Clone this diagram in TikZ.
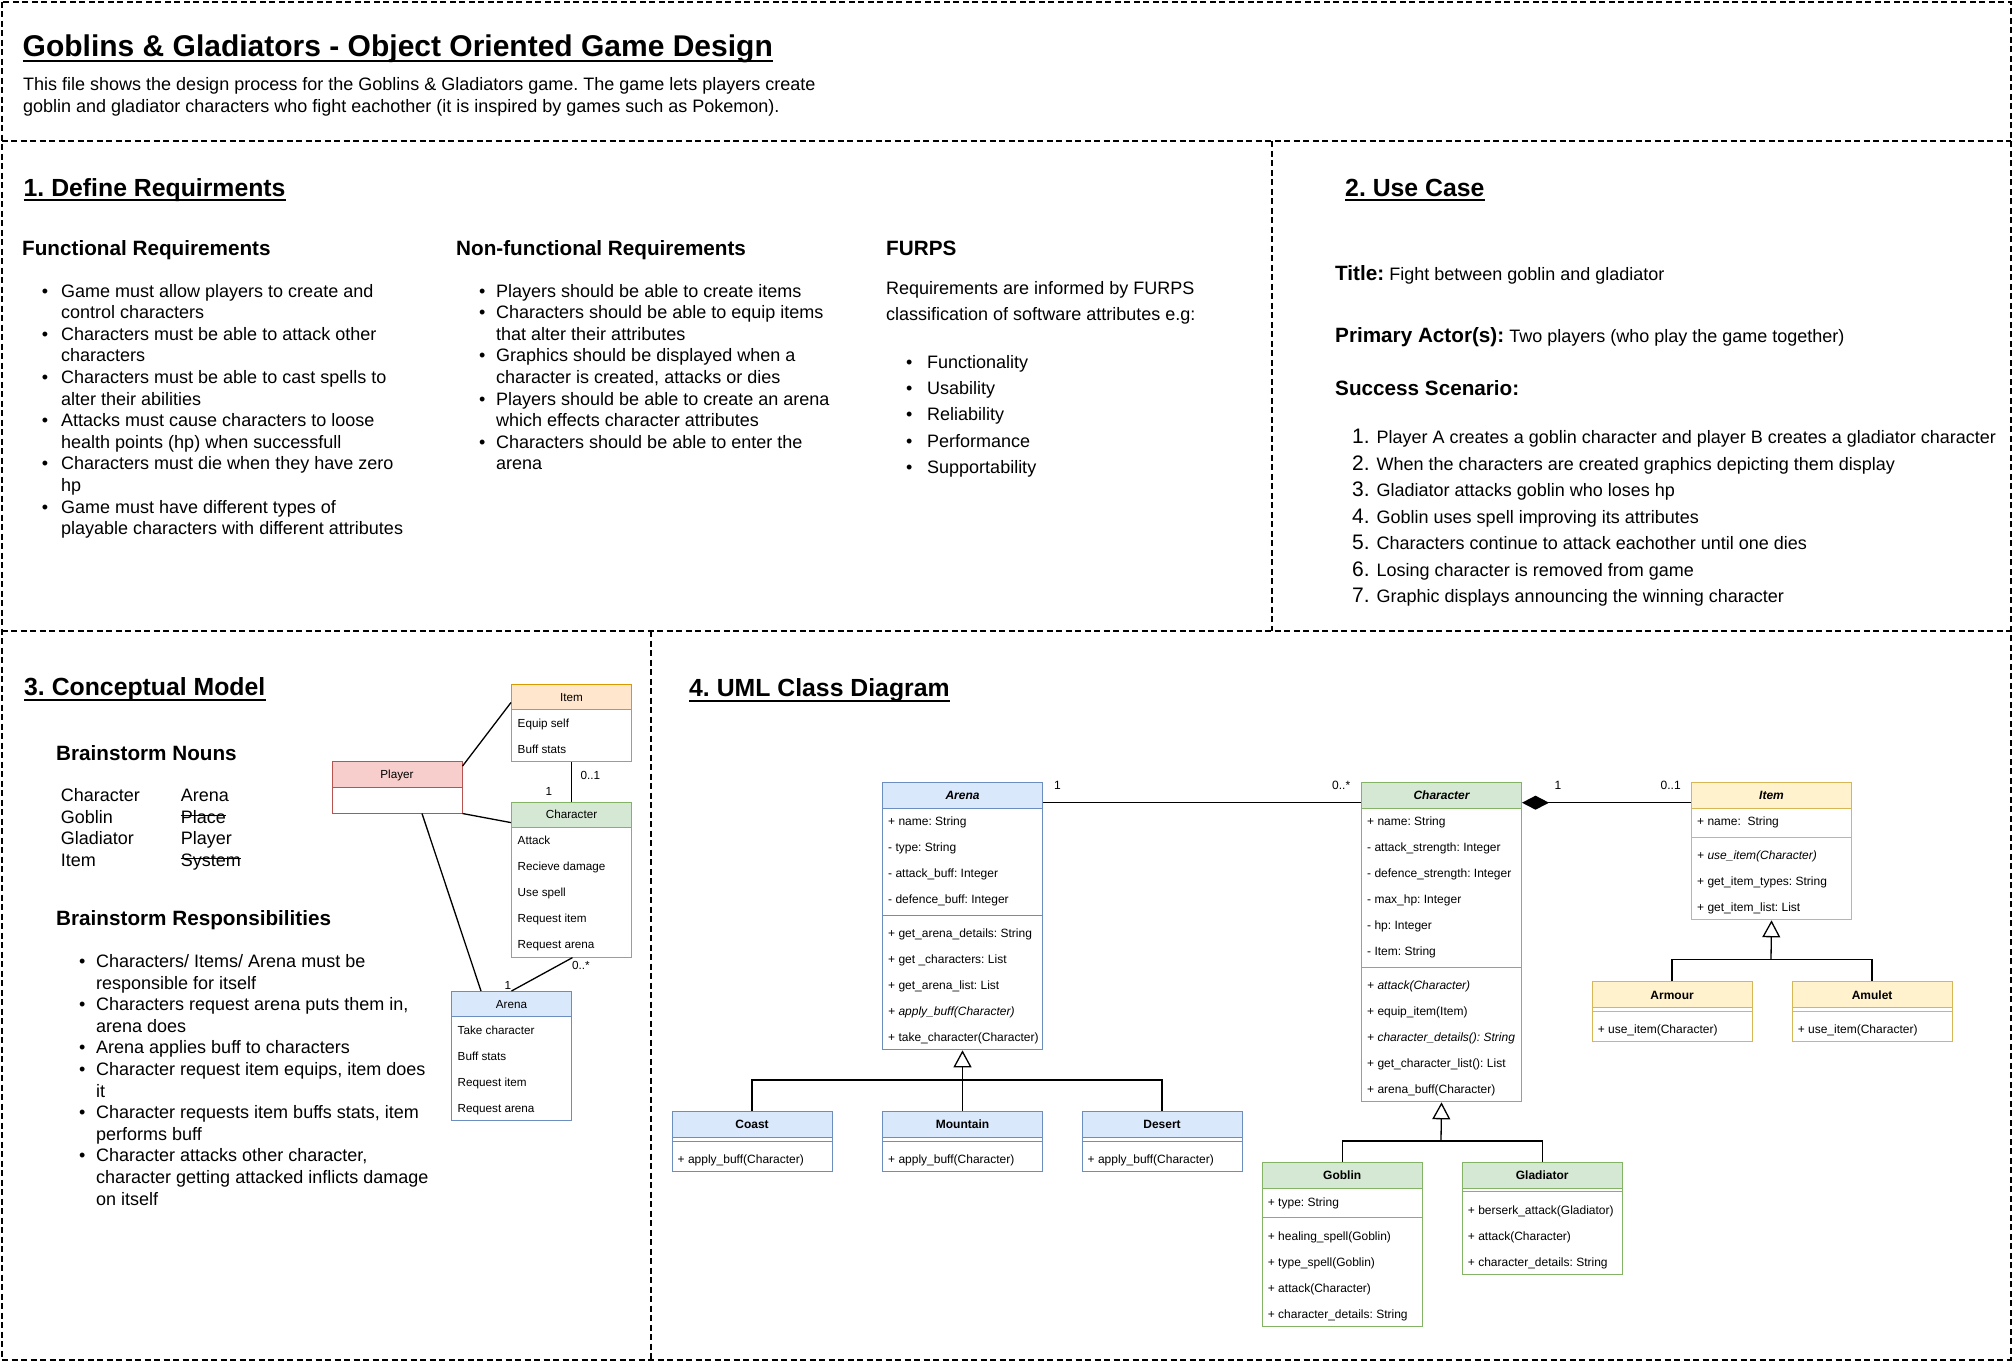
\documentclass[tikz,border=0pt]{standalone}
\usepackage{fontspec}
\setmainfont{Liberation Sans}
\usetikzlibrary{arrows.meta,calc}
\definecolor{bluF}{HTML}{DAE8FC}
\definecolor{bluS}{HTML}{6C8EBF}
\definecolor{grnF}{HTML}{D5E8D4}
\definecolor{grnS}{HTML}{82B366}
\definecolor{yelF}{HTML}{FFF2CC}
\definecolor{yelS}{HTML}{D6B656}
\definecolor{orgF}{HTML}{FFE6CC}
\definecolor{orgS}{HTML}{D79B00}
\definecolor{redF}{HTML}{F8CECC}
\definecolor{redS}{HTML}{B85450}
\newcommand\fs[1]{\fontsize{#1pt}{#1pt}\selectfont}
\newcommand\bul[1]{\makebox[#1pt][l]{\textbullet}}
\newcommand\ind[1]{\hspace*{#1pt}}
\frenchspacing
\begin{document}
\frenchspacing
\begin{tikzpicture}[x=1pt,y=-1pt,
  txt/.style={inner sep=0pt, anchor=base west},
  border/.style={line width=2pt, dash pattern=on 6pt off 3.5pt},
  ulin/.style={line width=2pt},
  conn/.style={line width=1.3pt},
  strike/.style={line width=1.1pt},
  clsbox/.style={draw, line width=1pt, fill=white, inner sep=0pt, minimum width=160pt, anchor=north west},
  clshdr/.style={draw, line width=1pt, inner sep=0pt, minimum width=160pt, minimum height=26pt, anchor=north west, font=\fs{12}\bfseries, text height=8.6pt, text depth=0pt},
  urow/.style={inner sep=0pt, anchor=west, text height=8.6pt, text depth=0pt, font=\fs{12}},
  seprule/.style={line width=1pt},
  cbox/.style={draw, line width=1pt, fill=white, inner sep=0pt, minimum width=120pt, anchor=north west},
  chdr/.style={draw, line width=1pt, inner sep=0pt, minimum width=120pt, minimum height=25pt, anchor=north west, font=\fs{11.7}, text height=8.4pt, text depth=0pt},
  crow/.style={inner sep=0pt, anchor=west, text height=8.4pt, text depth=0pt, font=\fs{11.7}},
  mult/.style={inner sep=0pt, anchor=west, text height=8.6pt, text depth=0pt, font=\fs{12}},
  inh/.style={conn, -{Triangle[open, length=17pt, width=18pt, fill=white]}},
]
\useasboundingbox (0,0) rectangle (2013,1363);
\fill[white] (0,0) rectangle (2013,1363);

% ---------- section borders ----------
\draw[border] (1.5,1.7) rectangle (2010.5,1359.5);
\draw[border] (1.5,141.3) -- (2010.5,141.3);
\draw[border] (1.5,631) -- (2010.5,631);
\draw[border] (1271.5,141.3) -- (1271.5,631);
\draw[border] (651,631) -- (651,1359.5);

% ---------- header ----------
\node[txt, font=\fs{30}\bfseries] (ttl) at (22.5,56.7) {Goblins \& Gladiators - Object Oriented Game Design};
\draw[ulin] ([yshift=-4.3pt]ttl.base west) -- ([yshift=-4.3pt]ttl.base east);
\node[txt, font=\fs{18}] (desc1) at (23,90.7) {This file shows the design process for the Goblins \& Gladiators game. The game lets players create};
\node[txt, font=\fs{18}] (desc2) at (23,112.3) {goblin and gladiator characters who fight eachother (it is inspired by games such as Pokemon).};

% ---------- section 1 ----------
\node[txt, font=\fs{24.8}\bfseries] (h1) at (23.5,196) {1. Define Requirments};
\draw[ulin] ([yshift=-4pt]h1.base west) -- ([yshift=-4pt]h1.base east);
\node[txt, font=\fs{20.7}\bfseries] (fh) at (22,255) {Functional Requirements};
\node[txt, font=\fs{20.7}\bfseries] (nh) at (456,255) {Non-functional Requirements};
\node[txt, font=\fs{20.7}\bfseries] (ph) at (886,255) {FURPS};

\foreach \t [count=\i from 0] in {
 {\bul{19.3}Game must allow players to create and},
 {\ind{19.3}control characters},
 {\bul{19.3}Characters must be able to attack other},
 {\ind{19.3}characters},
 {\bul{19.3}Characters must be able to cast spells to},
 {\ind{19.3}alter their abilities},
 {\bul{19.3}Attacks must cause characters to loose},
 {\ind{19.3}health points (hp) when successfull},
 {\bul{19.3}Characters must die when they have zero},
 {\ind{19.3}hp},
 {\bul{19.3}Game must have different types of},
 {\ind{19.3}playable characters with different attributes}}
 {\node[txt, font=\fs{18}] (fr\i) at (41.7,{297+21.6*\i}) {\t};}

\foreach \t [count=\i from 0] in {
 {\bul{17.1}Players should be able to create items},
 {\bul{17.1}Characters should be able to equip items},
 {\ind{17.1}that alter their attributes},
 {\bul{17.1}Graphics should be displayed when a},
 {\ind{17.1}character is created, attacks or dies},
 {\bul{17.1}Players should be able to create an arena},
 {\ind{17.1}which effects character attributes},
 {\bul{17.1}Characters should be able to enter the},
 {\ind{17.1}arena}}
 {\node[txt, font=\fs{18}] (nf\i) at (478.9,{297+21.6*\i}) {\t};}

\node[txt, font=\fs{18}] (fp1) at (886,294) {Requirements are informed by FURPS};
\node[txt, font=\fs{18}] (fp2) at (886,320.3) {classification of software attributes e.g:};
\foreach \t [count=\i from 0] in {Functionality, Usability, Reliability, Performance, Supportability}
 {\node[txt, font=\fs{18}] (fu\i) at (905.9,{368.3+26.25*\i}) {\bul{21.1}\t};}

% ---------- section 2 ----------
\node[txt, font=\fs{24.8}\bfseries] (h2) at (1345,196) {2. Use Case};
\draw[ulin] ([yshift=-4pt]h2.base west) -- ([yshift=-4pt]h2.base east);
\node[txt, font=\fs{18}] (uTitle) at (1335,280.7) {{\fs{20.7}\bfseries Title:} Fight between goblin and gladiator};
\node[txt, font=\fs{18}] (uActor) at (1335,342.3) {{\fs{20.7}\bfseries Primary Actor(s):} Two players (who play the game together)};
\node[txt, font=\fs{20.7}\bfseries] (uSucc) at (1335,395) {Success Scenario:};
\foreach \t [count=\i from 0] in {
 {Player A creates a goblin character and player B creates a gladiator character},
 {When the characters are created graphics depicting them display},
 {Gladiator attacks goblin who loses hp},
 {Goblin uses spell improving its attributes},
 {Characters continue to attack eachother until one dies},
 {Losing character is removed from game},
 {Graphic displays announcing the winning character}}
 {\pgfmathtruncatemacro\n{\i+1}
  \node[txt, font=\fs{21}] (sn\i) at (1352,{443.5+26.5*\i}) {\n.};
  \node[txt, font=\fs{18}] (st\i) at (1376.5,{443.5+26.5*\i}) {\t};}

% ---------- section 3 ----------
\node[txt, font=\fs{24.8}\bfseries] (h3) at (24,695.7) {3. Conceptual Model};
\draw[ulin] ([yshift=-4.3pt]h3.base west) -- ([yshift=-4.3pt]h3.base east);
\node[txt, font=\fs{20.7}\bfseries] (bn) at (56,760) {Brainstorm Nouns};
\foreach \t [count=\i from 0] in {Character, Goblin, Gladiator, Item}
 {\node[txt, font=\fs{18}] (nl\i) at (60.7,{801.7+21.5*\i}) {\t};}
\node[txt, font=\fs{18}] (nr0) at (180.7,801.7) {Arena};
\node[txt, font=\fs{18}] (nr1) at (180.7,823.2) {Place\ };
\node[txt, font=\fs{18}] (nr2) at (180.7,844.7) {Player};
\node[txt, font=\fs{18}] (nr3) at (180.7,866.2) {System};
\draw[strike] ([yshift=7.4pt]nr1.base west) -- ([yshift=7.4pt]nr1.base east);
\draw[strike] ([yshift=7.4pt]nr3.base west) -- ([yshift=7.4pt]nr3.base east);

\node[txt, font=\fs{20.7}\bfseries] (br) at (56,925.5) {Brainstorm Responsibilities};
\foreach \t [count=\i from 0] in {
 {\bul{17.1}Characters/ Items/ Arena must be},
 {\ind{17.1}responsible for itself},
 {\bul{17.1}Characters request arena puts them in,},
 {\ind{17.1}arena does},
 {\bul{17.1}Arena applies buff to characters},
 {\bul{17.1}Character request item equips, item does},
 {\ind{17.1}it},
 {\bul{17.1}Character requests item buffs stats, item},
 {\ind{17.1}performs buff},
 {\bul{17.1}Character attacks other character,},
 {\ind{17.1}character getting attacked inflicts damage},
 {\ind{17.1}on itself}}
 {\node[txt, font=\fs{18}] (rs\i) at (78.9,{967.5+21.6*\i}) {\t};}

% conceptual boxes
\node[cbox, draw=orgS, minimum height=77pt] (cItem) at (511,684) {};
\node[chdr, fill=orgF, draw=orgS] (cItemH) at (511,684) {Item};
\node[crow] (cIt1) at (517.5,723) {Equip self};
\node[crow] (cIt2) at (517.5,749) {Buff stats};

\node[cbox, draw=redS, minimum width=130pt, minimum height=52pt] (cPlayer) at (331.5,760.5) {};
\node[chdr, fill=redF, draw=redS, minimum width=130pt, minimum height=26pt] (cPlayerH) at (331.5,760.5) {Player};

\node[cbox, draw=grnS, minimum height=155pt] (cChar) at (511,801.6) {};
\node[chdr, fill=grnF, draw=grnS] (cCharH) at (511,801.6) {Character};
\foreach \t [count=\i from 0] in {Attack, Recieve damage, Use spell, Request item, Request arena}
 {\node[crow] (cCh\i) at (517.5,{840.6+26*\i}) {\t};}

\node[cbox, draw=bluS, minimum height=129pt] (cArena) at (451,991) {};
\node[chdr, fill=bluF, draw=bluS] (cArenaH) at (451,991) {Arena};
\foreach \t [count=\i from 0] in {Take character, Buff stats, Request item, Request arena}
 {\node[crow] (cAr\i) at (457.5,{1030+26*\i}) {\t};}

% conceptual connectors
\draw[conn] ($(cPlayer.north east)+(0,5.6)$) -- ($(cItem.north west)+(0,18.5)$);
\draw[conn] (cPlayer.south east) -- ($(cChar.north west)+(0,21)$);
\draw[conn] (cItem.south) -- (cChar.north);
\draw[conn] ($(cPlayer.south west)+(90.5,0)$) -- ($(cArena.north west)+(30,0)$);
\draw[conn] ($(cChar.south)+(1,0)$) -- (cArena.north);
\node[crow] (cm1) at (580.5,775) {0..1};
\node[crow] (cm2) at (545.5,791) {1};
\node[crow] (cm3) at (572,965) {0..*};
\node[crow] (cm4) at (504.5,985) {1};

% ---------- section 4 ----------
\node[txt, font=\fs{24.8}\bfseries] (h4) at (689,696.5) {4. UML Class Diagram};
\draw[ulin] ([yshift=-4pt]h4.base west) -- ([yshift=-4pt]h4.base east);

% Arena
\node[clsbox, draw=bluS, minimum height=267.6pt] (uArena) at (882,781.7) {};
\node[clshdr, fill=bluF, draw=bluS] (uArenaH) at (882,781.7) {\itshape Arena};
\draw[seprule, bluS] (882,915.3) -- (1042,915.3);
\foreach \t [count=\i from 0] in {{+ name: String}, {- type: String}, {- attack\_buff: Integer}, {- defence\_buff: Integer}}
 {\node[urow] (uAa\i) at (888,{821.3+26*\i}) {\t};}
\foreach \t [count=\i from 0] in {{+ get\_arena\_details: String}, {+ get \_characters: List}, {+ get\_arena\_list: List}, {\itshape + apply\_buff(Character)}, {+ take\_character(Character)}}
 {\node[urow] (uAm\i) at (888,{933.3+26*\i}) {\t};}

% Coast, Mountain, Desert
\node[clsbox, draw=bluS, minimum height=60pt] (uCoast) at (671.5,1111) {};
\node[clshdr, fill=bluF, draw=bluS] (uCoastH) at (671.5,1111) {Coast};
\draw[seprule, bluS] (671.5,1141) -- (831.5,1141);
\node[urow] (uCo1) at (677.5,1159) {+ apply\_buff(Character)};

\node[clsbox, draw=bluS, minimum height=60pt] (uMount) at (882,1111) {};
\node[clshdr, fill=bluF, draw=bluS] (uMountH) at (882,1111) {Mountain};
\draw[seprule, bluS] (882,1141) -- (1042,1141);
\node[urow] (uMo1) at (888,1159) {+ apply\_buff(Character)};

\node[clsbox, draw=bluS, minimum height=60pt] (uDesert) at (1081.5,1111) {};
\node[clshdr, fill=bluF, draw=bluS] (uDesertH) at (1081.5,1111) {Desert};
\draw[seprule, bluS] (1081.5,1141) -- (1241.5,1141);
\node[urow] (uDe1) at (1087.5,1159) {+ apply\_buff(Character)};

% Character
\node[clsbox, draw=grnS, minimum height=319.6pt] (uChar) at (1361,781.7) {};
\node[clshdr, fill=grnF, draw=grnS] (uCharH) at (1361,781.7) {\itshape Character};
\draw[seprule, grnS] (1361,967.3) -- (1521,967.3);
\foreach \t [count=\i from 0] in {{+ name: String}, {- attack\_strength: Integer}, {- defence\_strength: Integer}, {- max\_hp: Integer}, {- hp: Integer}, {- Item: String}}
 {\node[urow] (uCa\i) at (1367,{821.3+26*\i}) {\t};}
\foreach \t [count=\i from 0] in {{\itshape + attack(Character)}, {+ equip\_item(Item)}, {\itshape + character\_details(): String}, {+ get\_character\_list(): List}, {+ arena\_buff(Character)}}
 {\node[urow] (uCm\i) at (1367,{985.3+26*\i}) {\t};}

% Goblin, Gladiator
\node[clsbox, draw=grnS, minimum height=164pt] (uGob) at (1261.7,1161.7) {};
\node[clshdr, fill=grnF, draw=grnS] (uGobH) at (1261.7,1161.7) {Goblin};
\draw[seprule, grnS] (1261.7,1217.7) -- (1421.7,1217.7);
\node[urow] (uGa0) at (1267.7,1201.7) {+ type: String};
\foreach \t [count=\i from 0] in {{+ healing\_spell(Goblin)}, {+ type\_spell(Goblin)}, {+ attack(Character)}, {+ character\_details: String}}
 {\node[urow] (uGm\i) at (1267.7,{1235.7+26*\i}) {\t};}

\node[clsbox, draw=grnS, minimum height=112pt] (uGlad) at (1461.7,1161.7) {};
\node[clshdr, fill=grnF, draw=grnS] (uGladH) at (1461.7,1161.7) {Gladiator};
\draw[seprule, grnS] (1461.7,1191.7) -- (1621.7,1191.7);
\foreach \t [count=\i from 0] in {{+ berserk\_attack(Gladiator)}, {+ attack(Character)}, {+ character\_details: String}}
 {\node[urow] (uLm\i) at (1467.7,{1209.7+26*\i}) {\t};}

% Item
\node[clsbox, draw=yelS, minimum height=137.6pt] (uItem) at (1691,781.7) {};
\node[clshdr, fill=yelF, draw=yelS] (uItemH) at (1691,781.7) {\itshape Item};
\draw[seprule, yelS] (1691,837.3) -- (1851,837.3);
\node[urow] (uIa0) at (1697,821.3) {+ name:\ \ String};
\foreach \t [count=\i from 0] in {{\itshape + use\_item(Character)}, {+ get\_item\_types: String}, {+ get\_item\_list: List}}
 {\node[urow] (uIm\i) at (1697,{855.3+26*\i}) {\t};}

% Armour, Amulet
\node[clsbox, draw=yelS, minimum height=60pt] (uArm) at (1591.6,981.3) {};
\node[clshdr, fill=yelF, draw=yelS] (uArmH) at (1591.6,981.3) {Armour};
\draw[seprule, yelS] (1591.6,1011.3) -- (1751.6,1011.3);
\node[urow] (uAr1) at (1597.6,1029.3) {+ use\_item(Character)};

\node[clsbox, draw=yelS, minimum height=60pt] (uAmu) at (1791.6,981.3) {};
\node[clshdr, fill=yelF, draw=yelS] (uAmuH) at (1791.6,981.3) {Amulet};
\draw[seprule, yelS] (1791.6,1011.3) -- (1951.6,1011.3);
\node[urow] (uAu1) at (1797.6,1029.3) {+ use\_item(Character)};

% UML connectors
\draw[conn] ($(uArenaH.south east)+(0,-6)$) -- ($(uCharH.south west)+(0,-6)$);
\draw[conn, {Diamond[length=27pt, width=14pt]}-] ($(uCharH.south east)+(0,-6)$) -- ($(uItemH.south west)+(0,-6)$);
\node[mult] (um1) at (1054,785) {1};
\node[mult] (um2) at (1332,785) {0..*};
\node[mult] (um3) at (1554.5,785) {1};
\node[mult] (um4) at (1660.5,785) {0..1};

\coordinate (arBar) at (962,1080);
\draw[conn] (uCoastH.north) |- (arBar) -| (uDesertH.north);
\draw[inh] (uMountH.north) -- (uArena.south);

\coordinate (chBar) at (1441,1141);
\draw[conn] (uGobH.north) |- (chBar) -| (uGladH.north);
\draw[inh] (chBar) -- (uChar.south);

\coordinate (itBar) at (1771,959.3);
\draw[conn] (uArmH.north) |- (itBar) -| (uAmuH.north);
\draw[inh] (itBar) -- (uItem.south);
\end{tikzpicture}
\end{document}
